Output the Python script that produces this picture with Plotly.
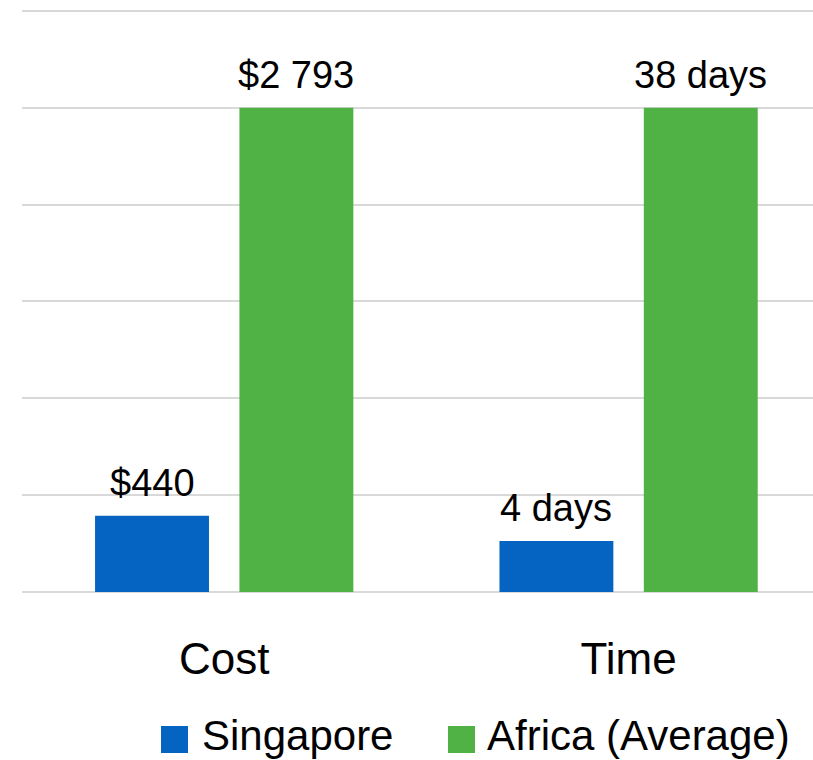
import plotly.graph_objects as go

# Source figures
categories = ["Cost", "Time"]
series_names = ["Singapore", "Africa (Average)"]
singapore_values = [440, 4]
africa_values = [2793, 38]
value_labels_singapore = ["$440", "4 days"]
value_labels_africa = ["$2 793", "38 days"]
colors = ["#0563C1", "#50B144"]

# Each metric is shown relative to the African average (= 100)
singapore_rel = [s / a * 100 for s, a in zip(singapore_values, africa_values)]
africa_rel = [a / a * 100 for a in africa_values]

W, H = 813, 760
ML, MR, MT, MB = 22, 0, 6, 168
FONT = "Liberation Sans, Arial, sans-serif"
BARGAP, BARGROUPGAP = 0.286, 0.211

x_pos = list(range(len(categories)))
series = [
    (series_names[0], singapore_rel, value_labels_singapore, colors[0]),
    (series_names[1], africa_rel, value_labels_africa, colors[1]),
]

fig = go.Figure()
for name, vals, labels, col in series:
    fig.add_trace(go.Bar(
        name=name, x=x_pos, y=vals,
        marker=dict(color=col, line=dict(width=0)),
        showlegend=False,
    ))

# Value labels above each bar (centre of each bar's slot within the group)
slot = (1 - BARGAP) / len(series)
for k, (name, vals, labels, col) in enumerate(series):
    offset = (k - (len(series) - 1) / 2) * slot
    for xi, v, lab in zip(x_pos, vals, labels):
        fig.add_annotation(x=xi + offset, y=v, xref="x", yref="y",
                           text=lab, showarrow=False,
                           xanchor="center", yanchor="bottom", yshift=10,
                           font=dict(size=38, family=FONT, color="#000000"))

fig.update_layout(
    width=W, height=H,
    margin=dict(l=ML, r=MR, t=MT, b=MB),
    paper_bgcolor="white", plot_bgcolor="white",
    barmode="group", bargap=BARGAP, bargroupgap=BARGROUPGAP,
    font=dict(family=FONT, color="#000000"),
)
fig.update_xaxes(
    range=[-0.5, 1.456], tickmode="array", tickvals=x_pos, ticktext=categories,
    tickfont=dict(size=44, family=FONT, color="#000000"),
    showgrid=False, zeroline=False, showline=False, ticks="",
    ticklabelstandoff=37,
)
fig.update_yaxes(
    range=[0, 121], tickmode="array", tickvals=[0, 20, 40, 60, 80, 100, 120],
    showticklabels=False,
    showgrid=True, gridcolor="#D9D9D9", gridwidth=2,
    zeroline=True, zerolinecolor="#D9D9D9", zerolinewidth=2,
    showline=False, ticks="",
)

# Legend drawn as swatches + text below the chart
def px_x(p):
    return (p - ML) / (W - ML - MR)

def px_y(p):
    return (H - MB - p) / (H - MT - MB)

legend_items = [(161, 200), (448, 485)]
for (sx, tx), name, col in zip(legend_items, series_names, colors):
    fig.add_shape(type="rect", xref="paper", yref="paper",
                  x0=px_x(sx), x1=px_x(sx + 27), y0=px_y(753), y1=px_y(726),
                  fillcolor=col, line=dict(width=0))
    fig.add_annotation(xref="paper", yref="paper", x=px_x(tx), y=px_y(761),
                       text=name, showarrow=False, xanchor="left", yanchor="bottom",
                       font=dict(size=42, family=FONT, color="#000000"))

fig.write_html("out.html")
